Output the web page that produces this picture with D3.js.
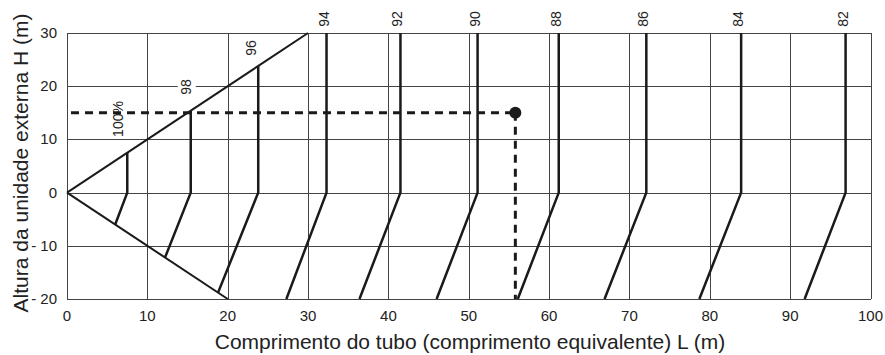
<!DOCTYPE html>
<html>
  <head>
    <meta charset="utf-8">
    <title>Comprimento do tubo vs altura</title>
    <script src="https://d3js.org/d3.v7.min.js"></script>
    <style>
      body { margin: 0; background: #fff; }
      svg text { font-family: "Liberation Sans", Arial, sans-serif; fill: #222; }
      .grid line { stroke: #444; stroke-width: 1; shape-rendering: crispEdges; }
      .curve { fill: none; stroke: #1a1a1a; stroke-width: 2.5; stroke-linejoin: round; }
      .edge { fill: none; stroke: #1a1a1a; stroke-width: 2; }
      .dash { fill: none; stroke: #1a1a1a; stroke-width: 3; stroke-dasharray: 8 6; }
    </style>
  </head>
  <body>
    <svg id="chart" width="885" height="355"></svg>
    <script>
      // capacity curves: % label, L at top (vertical part), L where slant ends, H where slant ends
      var labels = ["100%", "98", "96", "94", "92", "90", "88", "86", "84", "82"];
      var vertL = [7.5, 15.4, 23.8, 32.3, 41.5, 51.1, 61.2, 72.1, 83.9, 96.9];
      var footL = [6.0, 12.2, 18.8, 27.3, 36.4, 46.0, 56.1, 66.9, 78.7, 91.8];
      var footH = [-6.0, -12.2, -18.8, -20, -20, -20, -20, -20, -20, -20];
      // limit lines through the origin
      var upperEdge = [[0, 0], [30, 30]];
      var lowerEdge = [[0, 0], [20, -20]];
      // example reading
      var pointL = 55.8, pointH = 15;
      var xTicks = [0, 10, 20, 30, 40, 50, 60, 70, 80, 90, 100];
      var yTicks = [30, 20, 10, 0, -10, -20];
      var yTickText = ["30", "20", "10", "0", "- 10", "- 20"];

      var svg = d3.select("#chart");
      var x = d3.scaleLinear().domain([0, 100]).range([67, 870.5]);
      var y = d3.scaleLinear().domain([-20, 30]).range([299, 33]);
      var line = d3.line().x(function(d) { return x(d[0]); }).y(function(d) { return y(d[1]); });

      // grid
      var grid = svg.append("g").attr("class", "grid");
      grid.selectAll(".v").data(xTicks).enter().append("line")
        .attr("x1", function(d) { return Math.round(x(d)) + 0.5; })
        .attr("x2", function(d) { return Math.round(x(d)) + 0.5; })
        .attr("y1", y(30)).attr("y2", y(-20));
      grid.selectAll(".h").data(yTicks).enter().append("line")
        .attr("y1", function(d) { return Math.round(y(d)) + 0.5; })
        .attr("y2", function(d) { return Math.round(y(d)) + 0.5; })
        .attr("x1", x(0)).attr("x2", x(100));

      // tick labels
      svg.selectAll(".xt").data(xTicks).enter().append("text")
        .attr("x", function(d) { return x(d); })
        .attr("y", 321)
        .attr("text-anchor", "middle")
        .style("font-size", "15px")
        .text(function(d) { return d; });
      svg.selectAll(".yt").data(yTicks).enter().append("text")
        .attr("x", 57)
        .attr("y", function(d) { return y(d) + 5; })
        .attr("text-anchor", "end")
        .style("font-size", "15px")
        .text(function(d, i) { return yTickText[i]; });

      // axis titles
      svg.append("text")
        .attr("x", 470).attr("y", 349)
        .attr("text-anchor", "middle")
        .style("font-size", "21px")
        .text("Comprimento do tubo (comprimento equivalente) L (m)");
      svg.append("text")
        .attr("transform", "translate(28," + 163 + ") rotate(-90)")
        .attr("text-anchor", "middle")
        .style("font-size", "21px")
        .text("Altura da unidade externa H (m)");

      // edges
      svg.append("path").attr("class", "edge").attr("d", line(upperEdge));
      svg.append("path").attr("class", "edge").attr("d", line(lowerEdge));

      // curves: top of vertical is on the upper edge (L = H) or the top of the plot
      var curves = labels.map(function(lab, i) {
        var topH = Math.min(vertL[i], 30);
        return [[vertL[i], topH], [vertL[i], 0], [footL[i], footH[i]]];
      });
      svg.selectAll(".curve").data(curves).enter().append("path")
        .attr("class", "curve")
        .attr("d", line);

      // white gap behind "98" on the grid line
      svg.append("rect")
        .attr("x", x(vertL[1]) - 13).attr("y", 76)
        .attr("width", 18).attr("height", 22)
        .attr("fill", "#fff");

      // curve labels
      svg.selectAll(".clab").data(labels).enter().append("text")
        .attr("class", "clab")
        .attr("transform", function(d, i) {
          var cx, cy;
          if (i === 0) { cx = x(vertL[i]) - 9; cy = 119; }
          else if (i === 1) { cx = x(vertL[i]) - 5; cy = 87; }
          else if (i === 2) { cx = x(vertL[i]) - 7; cy = 48; }
          else { cx = x(vertL[i]) - 3; cy = 19; }
          return "translate(" + (cx + 5) + "," + cy + ") rotate(-90)";
        })
        .attr("text-anchor", "middle")
        .style("font-size", "14px")
        .text(function(d) { return d; });

      // example reading, dashed
      svg.append("path").attr("class", "dash")
        .attr("d", line([[0.5, pointH], [pointL, pointH]]));
      svg.append("path").attr("class", "dash")
        .attr("d", line([[pointL, pointH], [pointL, -20]]));
      svg.append("circle")
        .attr("cx", x(pointL)).attr("cy", y(pointH))
        .attr("r", 6).attr("fill", "#1a1a1a");
    </script>
  </body>
</html>
